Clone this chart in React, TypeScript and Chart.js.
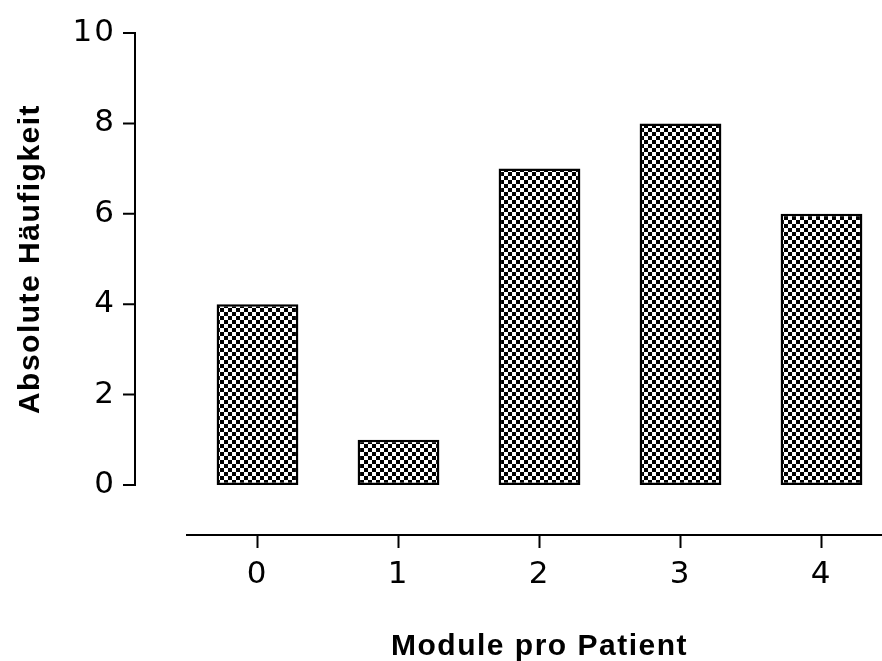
import React, { useEffect, useRef } from "react";
import { Chart, registerables } from "chart.js";

Chart.register(...registerables);

const categories = ["0", "1", "2", "3", "4"];
const counts = [4, 1, 7, 8, 6];
const yTicks = [0, 2, 4, 6, 8, 10];
const xTitle = "Module pro Patient";
const yTitle = "Absolute Häufigkeit";

const TICK_FONT = "'DejaVu Sans', sans-serif";
const TITLE_FONT = "'Liberation Sans', Arial, sans-serif";

function makeChecker(): CanvasPattern | string {
  const c = document.createElement("canvas");
  c.width = 8;
  c.height = 8;
  const g = c.getContext("2d");
  if (!g) return "#000";
  g.fillStyle = "#fff";
  g.fillRect(0, 0, 8, 8);
  g.fillStyle = "#000";
  g.fillRect(0, 0, 4, 4);
  g.fillRect(4, 4, 4, 4);
  const p = g.createPattern(c, "repeat");
  return p ?? "#000";
}

// Spaced digits for tick labels.
const tickSpacing = {
  id: "tickSpacing",
  beforeDraw(chart: any) {
    (chart.ctx as any).letterSpacing = "2px";
  },
};

// Detached y axis line with outward ticks, plus both axis titles.
const axisDecor = {
  id: "axisDecor",
  afterDraw(chart: any) {
    const { ctx, scales } = chart;
    const y = scales.y;
    const x = scales.x;
    const axisX = 135;
    const top = y.getPixelForValue(yTicks[yTicks.length - 1]);
    const bottom = y.getPixelForValue(yTicks[0]);
    ctx.save();
    ctx.strokeStyle = "#000";
    ctx.lineWidth = 2;
    ctx.lineCap = "butt";
    ctx.beginPath();
    ctx.moveTo(axisX, top - 1);
    ctx.lineTo(axisX, bottom + 1);
    for (const v of yTicks) {
      const py = y.getPixelForValue(v);
      ctx.moveTo(axisX - 12, py);
      ctx.lineTo(axisX + 1, py);
    }
    ctx.stroke();

    ctx.fillStyle = "#000";
    ctx.font = `bold 30px ${TITLE_FONT}`;
    (ctx as any).letterSpacing = "1.5px";
    ctx.textAlign = "center";
    ctx.textBaseline = "alphabetic";
    ctx.fillText(xTitle, x.getPixelForValue(2), 655);

    ctx.translate(39, (top + bottom) / 2);
    ctx.rotate(-Math.PI / 2);
    ctx.fillText(yTitle, 0, 0);
    ctx.restore();
  },
};

export default function App() {
  const ref = useRef<HTMLCanvasElement | null>(null);

  useEffect(() => {
    if (!ref.current) return;
    const checker = makeChecker();
    const pxPerUnit = (535 - 33 - 50) / 10;
    const chart = new Chart(ref.current, {
      type: "bar",
      data: {
        labels: categories,
        datasets: [
          {
            data: counts,
            backgroundColor: checker as any,
            borderColor: "#000",
            borderWidth: 2.5,
            borderSkipped: false,
            categoryPercentage: 1,
            barPercentage: 0.58,
          },
        ],
      },
      options: {
        responsive: false,
        animation: false,
        devicePixelRatio: 1,
        layout: { padding: { top: 33, left: 0, right: 8, bottom: 0 } },
        plugins: {
          legend: { display: false },
          tooltip: { enabled: false },
          title: { display: false },
        },
        scales: {
          x: {
            type: "category",
            offset: true,
            grid: {
              display: true,
              drawOnChartArea: false,
              drawTicks: true,
              tickLength: 13,
              tickWidth: 2,
              tickColor: "#000",
              offset: false,
            },
            border: { display: true, color: "#000", width: 2 },
            ticks: {
              color: "#000",
              padding: 8,
              font: { family: TICK_FONT, size: 31 },
            },
            afterFit(scale: any) {
              scale.height = 661 - 535;
              scale.paddingLeft = 0;
              scale.paddingRight = 0;
            },
          },
          y: {
            type: "linear",
            min: -50 / pxPerUnit,
            max: 10,
            afterBuildTicks(scale: any) {
              scale.ticks = yTicks.map((v) => ({ value: v }));
            },
            grid: { display: false, drawTicks: false },
            border: { display: false },
            ticks: {
              color: "#000",
              padding: 71,
              font: { family: TICK_FONT, size: 31 },
              callback: (v: any) => String(v),
            },
            afterFit(scale: any) {
              scale.width = 187;
              scale.paddingTop = 0;
              scale.paddingBottom = 0;
            },
          },
        },
      },
      plugins: [tickSpacing, axisDecor],
    });
    return () => chart.destroy();
  }, []);

  return (
    <div
      style={{
        position: "absolute",
        left: 0,
        top: 0,
        width: 882,
        height: 661,
        overflow: "hidden",
        background: "#fff",
      }}
    >
      <canvas ref={ref} width={900} height={661} style={{ display: "block" }} />
    </div>
  );
}
